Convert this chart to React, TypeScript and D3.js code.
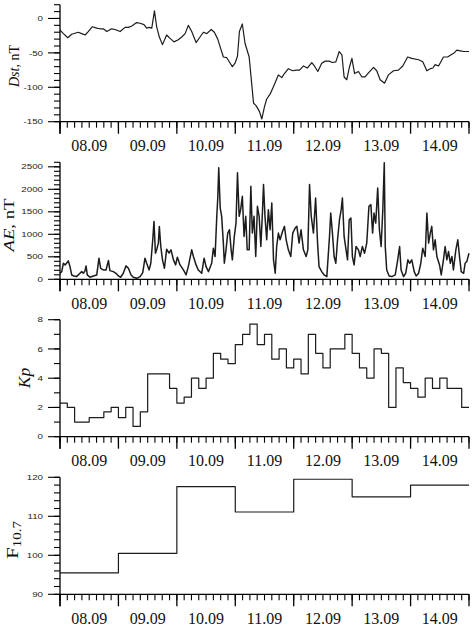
import React from "react";
import * as d3 from "d3";

const W = 472;
const H = 628;

// hours counted from 08.09 00 UT
const dstHours = [0, 1.4, 3.2, 4.8, 7.5, 8.9, 10.3, 11.6, 13.3, 15.1, 16.4, 17.8, 19.2, 21.2, 22.6, 24.7, 26.7, 28.1, 29.5, 31.5, 32.9, 34.5, 35.6, 36.6, 37.7, 38.8, 39.7, 40.8, 42.1, 43.8, 45.2, 46.8, 48.6, 50, 51.4, 52.7, 54.1, 55.9, 57.3, 58.9, 60.3, 62.1, 63.4, 64.8, 66.2, 67.1, 68.5, 69.9, 70.8, 71.9, 72.9, 73.7, 74.9, 76, 77.7, 79.5, 80.6, 81.9, 82.9, 84, 84.9, 86.3, 87.7, 89.7, 91.1, 92.2, 93.8, 95.6, 97, 98.4, 100, 101.6, 103.4, 104.5, 105.9, 107.5, 108.9, 110.5, 111.9, 113.3, 114.7, 115.8, 116.7, 117.8, 118.8, 119.9, 121, 122.6, 124, 125.3, 126.7, 128.8, 130.1, 131.5, 133.3, 134.9, 137, 139, 140.8, 142.8, 144.5, 147.3, 149, 150.7, 152.1, 153.2, 154.1, 155.5, 157.5, 159.2, 161, 161.6, 163, 164.4, 165.8, 168];
const dstValues = [-17, -22, -28, -23, -20, -22, -24, -19, -12, -14, -15, -15, -19, -15, -16, -19, -13, -13, -11, -6, -7, -9, -14, -13, -14, 11, -12, -27, -38, -24, -29, -34, -31, -27, -22, -10, -19, -35, -28, -20, -22, -16, -20, -30, -46, -56, -57, -65, -70, -65, -55, -19, -8, -36, -56, -123, -127, -135, -146, -128, -117, -110, -99, -82, -86, -80, -73, -76, -75, -75, -69, -72, -64, -69, -77, -65, -62, -62, -64, -63, -48, -53, -85, -89, -72, -58, -80, -77, -85, -85, -79, -71, -76, -89, -94, -82, -76, -75, -69, -56, -58, -60, -63, -76, -73, -72, -67, -69, -56, -56, -52, -51, -46, -47, -48, -48];

const aeHours = [0, 0.7, 1.4, 2.1, 2.7, 3.4, 4.1, 4.8, 5.8, 6.8, 7.9, 8.9, 9.6, 10.3, 10.7, 11.2, 12.3, 13.7, 15.1, 16, 16.7, 17.8, 18.9, 19.9, 20.5, 21.9, 23, 24, 24.9, 26, 27.1, 28.1, 29.2, 30.1, 31.5, 32.9, 34, 34.9, 35.6, 36.6, 37.3, 38.1, 38.6, 39.2, 39.7, 40.4, 40.8, 41.4, 42.1, 42.9, 43.8, 44.8, 45.6, 46.6, 47.5, 48.2, 49.3, 50.7, 51.8, 52.7, 54.1, 54.8, 55.9, 56.8, 58.2, 59.2, 60, 61, 62.3, 63, 63.7, 64.4, 64.8, 65.2, 65.8, 66.4, 67.1, 67.5, 68.2, 68.9, 69.6, 70.3, 70.8, 71.6, 72.3, 72.9, 73.6, 74.2, 74.9, 75.6, 76.3, 76.9, 77.7, 78.4, 79, 79.7, 80.4, 81.1, 81.8, 82.5, 83.2, 83.6, 84.2, 84.9, 85.6, 86.3, 87, 87.7, 88.4, 89, 89.7, 90.4, 91.4, 92.2, 92.9, 93.8, 94.8, 95.6, 96.6, 97.3, 98.2, 99, 100, 101.1, 101.8, 102.5, 103.2, 104.1, 105, 105.8, 106.4, 107.5, 108.5, 109.6, 110.7, 111.2, 111.9, 112.6, 113.3, 114, 114.8, 115.5, 116, 116.7, 117.5, 118.1, 118.8, 119.5, 120.1, 120.8, 121.6, 122.6, 123.3, 124.2, 125.1, 126, 126.9, 127.7, 128.4, 129, 129.7, 130.5, 131.2, 131.9, 132.6, 133.2, 133.6, 134.2, 135.2, 136.3, 137.7, 138.6, 139.5, 140.1, 141.1, 142, 142.9, 143.6, 144.5, 145.5, 146.3, 147.3, 148.2, 149, 150, 150.7, 151.4, 152.1, 152.7, 153.4, 154.1, 154.8, 155.9, 156.6, 157.5, 158.2, 158.9, 159.6, 160.3, 161, 161.6, 162.6, 163.4, 164.1, 164.8, 165.8, 166.4, 167.1, 168];
const aeValues = [134, 170, 357, 320, 357, 409, 283, 97, 74, 60, 119, 171, 134, 193, 298, 97, 45, 74, 97, 469, 245, 208, 208, 417, 193, 171, 134, 74, 45, 134, 298, 245, 97, 45, 22, 60, 149, 469, 357, 208, 357, 878, 1287, 580, 655, 804, 1176, 729, 432, 245, 670, 580, 655, 432, 320, 491, 320, 208, 97, 283, 655, 506, 320, 208, 134, 469, 283, 171, 357, 692, 506, 1399, 1808, 2478, 1585, 1399, 804, 357, 655, 1027, 1101, 655, 432, 952, 1250, 2366, 1399, 1548, 1845, 952, 1399, 655, 655, 2068, 1027, 1399, 506, 1622, 1399, 729, 1548, 2106, 1399, 878, 1548, 1101, 1696, 432, 134, 729, 1027, 878, 1064, 1176, 878, 655, 506, 1027, 1138, 1176, 804, 1101, 655, 506, 655, 2106, 1399, 1027, 1808, 804, 283, 171, 97, 60, 952, 1473, 1027, 506, 357, 878, 1324, 1548, 1808, 952, 655, 432, 1324, 1361, 506, 320, 729, 655, 506, 729, 580, 804, 1622, 1659, 1027, 1473, 1250, 2031, 1101, 729, 1548, 2589, 729, 208, 74, 60, 97, 394, 729, 208, 60, 134, 432, 357, 432, 171, 74, 134, 357, 692, 506, 1473, 804, 1027, 1176, 655, 878, 506, 320, 97, 432, 729, 432, 618, 357, 506, 208, 655, 878, 506, 171, 134, 357, 394, 580];

// 3-hour Kp, 08.09 - 14.09
const kpValues = [
  2.3, 2.0, 1.0, 1.0, 1.3, 1.3, 1.7, 2.0,
  1.3, 2.0, 0.7, 1.7, 4.3, 4.3, 4.3, 3.3,
  2.3, 2.7, 4.0, 3.3, 4.0, 5.7, 5.3, 5.0,
  6.3, 7.0, 7.7, 6.3, 7.0, 5.3, 6.0, 4.7,
  5.3, 4.3, 7.0, 5.7, 4.7, 6.0, 6.0, 7.0,
  5.7, 4.7, 4.0, 6.0, 5.7, 2.0, 4.7, 3.7,
  3.3, 2.7, 4.0, 3.3, 4.0, 3.3, 3.3, 2.0,
];

// daily F10.7
const f107Values = [95.5, 100.5, 117.6, 111.1, 119.5, 115.0, 118.0];

const dayLabels = ["08.09", "09.09", "10.09", "11.09", "12.09", "13.09", "14.09"];

const PH = 117;
const LEFT = 60;
const RIGHT = 469;
const INK = "#1c1c1c";

const x = d3.scaleLinear().domain([0, 168]).range([LEFT, RIGHT]);

function Panel(props: {
  bottom: number;
  domain: [number, number];
  major: number;
  minor: number;
  points: [number, number][];
  step?: boolean;
  width?: number;
  title: React.ReactNode;
}) {
  const { bottom, domain, major, minor, points, step, title } = props;
  const top = bottom - PH;
  const y = d3.scaleLinear().domain(domain).range([bottom, top]);
  const minorY = d3.range(domain[0], domain[1] + 0.001, minor);
  const majorY = d3.range(domain[0], domain[1] + 0.001, major);
  const minorX = d3.range(0, 168.1, 3);
  const majorX = d3.range(0, 168.1, 24);
  const line = d3
    .line<[number, number]>()
    .x((d) => x(d[0]))
    .y((d) => y(d[1]))
    .curve(step ? d3.curveStepAfter : d3.curveLinear);

  return (
    <g>
      <path d={line(points) || ""} fill="none" stroke={INK} strokeWidth={props.width || 1.2} strokeLinejoin="round" />
      {/* y axis */}
      <line x1={LEFT} x2={LEFT} y1={top} y2={bottom + 12} stroke="#000" strokeWidth={1.3} />
      {minorY.map((v) => (
        <line key={"ym" + v} x1={LEFT - 6} x2={LEFT} y1={y(v)} y2={y(v)} stroke="#000" strokeWidth={1.1} />
      ))}
      {majorY.map((v) => (
        <g key={"yM" + v}>
          <line x1={LEFT - 12} x2={LEFT} y1={y(v)} y2={y(v)} stroke="#000" strokeWidth={1.1} />
          <text
            transform={`translate(43,${y(v)}) scale(1.3,1)`}
            textAnchor="end"
            dy="0.35em"
            fontFamily="Liberation Sans, Arial, sans-serif"
            fontSize={7.5}
            fill="#222"
          >
            {v}
          </text>
        </g>
      ))}
      {/* x axis */}
      <line x1={LEFT} x2={RIGHT} y1={bottom} y2={bottom} stroke="#000" strokeWidth={1.3} />
      {minorX.map((h) => (
        <line key={"xm" + h} x1={x(h)} x2={x(h)} y1={bottom} y2={bottom + 6} stroke="#000" strokeWidth={1.1} />
      ))}
      {majorX.map((h) => (
        <line key={"xM" + h} x1={x(h)} x2={x(h)} y1={bottom} y2={bottom + 12} stroke="#000" strokeWidth={1.3} />
      ))}
      {dayLabels.map((lab, i) => (
        <text
          key={lab}
          x={x(i * 24 + 12)}
          y={bottom + 29.5}
          textAnchor="middle"
          fontFamily="Liberation Serif, Times New Roman, serif"
          fontSize={16}
          fill="#111"
        >
          {lab}
        </text>
      ))}
      {title}
    </g>
  );
}

export default function App() {
  const dst = dstHours.map((h, i) => [h, dstValues[i]] as [number, number]);
  const ae = aeHours.map((h, i) => [h, aeValues[i]] as [number, number]);
  const kp = kpValues.map((v, i) => [i * 3, v] as [number, number]);
  kp.push([168, kpValues[kpValues.length - 1]]);
  const f107 = f107Values.map((v, i) => [i * 24, v] as [number, number]);
  f107.push([168, f107Values[f107Values.length - 1]]);

  const serif = "Liberation Serif, Times New Roman, serif";

  return (
    <svg width={W} height={H} style={{ position: "absolute", left: 0, top: 0, background: "#fff" }}>
      <rect width={W} height={H} fill="#fff" />
      <Panel
        bottom={121.7}
        domain={[-150, 20]}
        major={50}
        minor={10}
        points={dst}
        title={
          <text transform="translate(18.5,66) rotate(-90)" textAnchor="middle" fontFamily={serif} fontSize={14} fill="#111">
            <tspan fontStyle="italic">Dst</tspan>, nT
          </text>
        }
      />
      <Panel
        bottom={279.3}
        domain={[0, 2600]}
        major={500}
        minor={100}
        points={ae}
        width={1.5}
        title={
          <text transform="translate(13.5,225) rotate(-90) scale(1.25,1)" textAnchor="middle" fontFamily={serif} fontSize={15} fill="#111">
            <tspan fontStyle="italic">AE</tspan>, nT
          </text>
        }
      />
      <Panel
        bottom={436.7}
        domain={[0, 8]}
        major={2}
        minor={1}
        points={kp}
        step
        title={
          <text transform="translate(30,378) rotate(-90) scale(1.1,1)" textAnchor="middle" fontFamily={serif} fontSize={16} fill="#111" fontStyle="italic">
            Kp
          </text>
        }
      />
      <Panel
        bottom={594.3}
        domain={[90, 120]}
        major={10}
        minor={2}
        points={f107}
        step
        title={
          <text transform="translate(18,540) rotate(-90) scale(1.25,1)" textAnchor="middle" fontFamily={serif} fontSize={17} fill="#111">
            F<tspan fontSize={12} dy={3}>10.7</tspan>
          </text>
        }
      />
    </svg>
  );
}
